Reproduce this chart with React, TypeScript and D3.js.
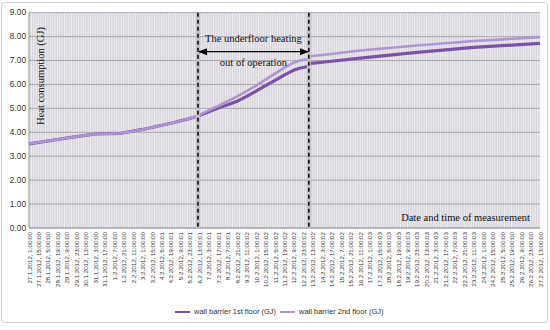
import * as d3 from "d3";

// tick labels on the category axis (one every 14 hours)
const xLabels = [
  "27.1.2012, 1:00:00", "27.1.2012, 15:00:00", "28.1.2012, 5:00:00", "28.1.2012, 19:00:00",
  "29.1.2012, 9:00:00", "29.1.2012, 23:00:00", "30.1.2012, 13:00:00", "31.1.2012, 3:00:00",
  "31.1.2012, 17:00:00", "1.2.2012, 7:00:00", "1.2.2012, 21:00:00", "2.2.2012, 11:00:00",
  "3.2.2012, 1:00:00", "3.2.2012, 15:00:00", "4.2.2012, 5:00:01", "4.2.2012, 19:00:01",
  "5.2.2012, 9:00:01", "5.2.2012, 23:00:01", "6.2.2012, 13:00:01", "7.2.2012, 3:00:01",
  "7.2.2012, 17:00:01", "8.2.2012, 7:00:01", "8.2.2012, 21:00:02", "9.2.2012, 11:00:02",
  "10.2.2012, 1:00:02", "10.2.2012, 15:00:02", "11.2.2012, 5:00:02", "11.2.2012, 19:00:02",
  "12.2.2012, 9:00:02", "12.2.2012, 23:00:02", "13.2.2012, 13:00:02", "14.2.2012, 3:00:02",
  "14.2.2012, 17:00:02", "15.2.2012, 7:00:02", "15.2.2012, 21:00:02", "16.2.2012, 11:00:02",
  "17.2.2012, 1:00:03", "17.2.2012, 15:00:03", "18.2.2012, 5:00:03", "18.2.2012, 19:00:03",
  "19.2.2012, 9:00:03", "19.2.2012, 23:00:03", "20.2.2012, 13:00:03", "21.2.2012, 3:00:03",
  "21.2.2012, 17:00:03", "22.2.2012, 7:00:03", "22.2.2012, 21:00:03", "23.2.2012, 11:00:03",
  "24.2.2012, 1:00:00", "24.2.2012, 15:00:00", "25.2.2012, 5:00:00", "25.2.2012, 19:00:00",
  "26.2.2012, 9:00:00", "26.2.2012, 23:00:00", "27.2.2012, 13:00:00",
];

const yTicks = [0, 1, 2, 3, 4, 5, 6, 7, 8, 9];

const times = [
  "2012-01-27T01:00", "2012-01-28T19:00", "2012-01-29T23:00", "2012-01-31T03:00",
  "2012-02-01T15:00", "2012-02-03T01:00", "2012-02-04T19:00", "2012-02-05T23:00",
  "2012-02-06T13:00", "2012-02-07T03:00", "2012-02-07T17:00", "2012-02-08T07:00",
  "2012-02-08T21:00", "2012-02-09T11:00", "2012-02-10T01:00", "2012-02-10T15:00",
  "2012-02-11T05:00", "2012-02-11T19:00", "2012-02-12T09:00", "2012-02-12T17:00",
  "2012-02-13T06:00", "2012-02-13T09:00", "2012-02-14T03:00", "2012-02-16T11:00",
  "2012-02-19T23:00", "2012-02-23T11:00", "2012-02-27T13:00",
];

const floor1 = [
  3.52, 3.7, 3.82, 3.93, 3.95, 4.12, 4.38, 4.58, 4.7, 4.86, 5.02, 5.15, 5.3, 5.5,
  5.72, 5.95, 6.17, 6.4, 6.6, 6.68, 6.75, 6.88, 6.93, 7.1, 7.34, 7.55, 7.72,
];
const floor2 = [
  3.52, 3.7, 3.82, 3.93, 3.95, 4.12, 4.38, 4.58, 4.72, 4.92, 5.1, 5.3, 5.5, 5.72,
  5.95, 6.2, 6.45, 6.7, 6.92, 7.0, 7.05, 7.18, 7.23, 7.42, 7.63, 7.82, 7.98,
];

const seriesNames = ["wall barrier 1st floor (GJ)", "wall barrier 2nd floor (GJ)"];
const colors = ["#7a53a4", "#ae96d1"];

// heating switched off between these two moments
const offPeriod = ["2012-02-06T11:00", "2012-02-13T07:00"];

const W = 550;
const H = 330;
const left = 29;
const right = 540;
const top = 12.7;
const bottom = 228;

export default function App() {
  const parse = (s: string) => new Date(s);
  const t0 = parse(times[0]);
  const t1 = new Date(t0.getTime() + (xLabels.length - 1) * 14 * 3600 * 1000);

  const x = d3.scaleTime().domain([t0, t1]).range([left, right]);
  const xCat = d3.scalePoint<string>().domain(xLabels).range([left, right]);
  const y = d3.scaleLinear().domain([0, 9]).range([bottom, top]);

  const line = d3
    .line<[Date, number]>()
    .x((d) => x(d[0]))
    .y((d) => y(d[1]));

  const s1 = times.map((t, i) => [parse(t), floor1[i]] as [Date, number]);
  const s2 = times.map((t, i) => [parse(t), floor2[i]] as [Date, number]);

  // dense vertical grid, four per label interval
  const vGrid = d3.range(0, (xLabels.length - 1) * 4 + 1).map(
    (i) => left + (i * (right - left)) / ((xLabels.length - 1) * 4)
  );

  const xa = x(parse(offPeriod[0]));
  const xb = x(parse(offPeriod[1]));
  const arrowY = 51.7;

  return (
    <svg
      width={W}
      height={H}
      style={{ position: "absolute", left: 0, top: 0, background: "#fff" }}
    >
      <defs>
        <marker id="ah" viewBox="0 0 10 10" refX="9" refY="5" markerWidth="7" markerHeight="7" orient="auto-start-reverse">
          <path d="M0,1 L10,5 L0,9 z" fill="#000" />
        </marker>
      </defs>
      <rect x={1.5} y={2.5} width={546} height={320} rx={3} fill="#fff" stroke="#cfcfcf" />
      <rect x={left} y={top} width={right - left} height={bottom - top} fill="#d6d3da" />
      {vGrid.map((gx, i) => (
        <line key={i} x1={gx} x2={gx} y1={top} y2={bottom} stroke="#f4f3f6" strokeWidth={0.9} />
      ))}
      {yTicks.map((v) => (
        <g key={v}>
          <line x1={left} x2={right} y1={y(v)} y2={y(v)} stroke="#a9a8ad" strokeWidth={1} />
          <text x={left - 3} y={y(v)} dy="0.33em" textAnchor="end" fontSize={8.3} fontFamily="Liberation Sans, Arial" fill="#333">
            {d3.format(".2f")(v)}
          </text>
        </g>
      ))}
      <line x1={left} x2={left} y1={top} y2={bottom} stroke="#9a9a9a" />
      <line x1={left} x2={right} y1={bottom} y2={bottom} stroke="#9a9a9a" />
      {xLabels.map((l) => (
        <text
          key={l}
          transform={`translate(${xCat(l)! + 2.5},${bottom + 4}) rotate(-90)`}
          textAnchor="end"
          fontSize={6.2}
          fontFamily="Liberation Sans, Arial"
          fill="#333"
        >
          {l}
        </text>
      ))}

      <path d={line(s1)!} fill="none" stroke={colors[0]} strokeWidth={3.2} strokeLinejoin="round" />
      <path d={line(s2)!} fill="none" stroke={colors[1]} strokeWidth={2.6} strokeLinejoin="round" />

      {[xa, xb].map((dx, i) => (
        <g key={i}>
          <line x1={dx} x2={dx} y1={top} y2={bottom} stroke="#c4c2c7" strokeWidth={4} />
          <line x1={dx} x2={dx} y1={top} y2={bottom} stroke="#111" strokeWidth={1.6} strokeDasharray="4 3" />
        </g>
      ))}
      <line x1={xa + 1} x2={xb - 1} y1={arrowY} y2={arrowY} stroke="#000" strokeWidth={1.3} markerStart="url(#ah)" markerEnd="url(#ah)" />
      <text x={(xa + xb) / 2} y={42} textAnchor="middle" fontSize={10.5} fontFamily="Liberation Serif, serif" fill="#111">
        The underfloor heating
      </text>
      <text x={(xa + xb) / 2} y={66} textAnchor="middle" fontSize={10.5} fontFamily="Liberation Serif, serif" fill="#111">
        out of operation
      </text>

      <text transform={`translate(44,76) rotate(-90)`} textAnchor="middle" fontSize={10.5} fontFamily="Liberation Serif, serif" fill="#111">
        Heat consumption (GJ)
      </text>
      <text x={530} y={221} textAnchor="end" fontSize={10.5} fontFamily="Liberation Serif, serif" fill="#111">
        Date and time of measurement
      </text>

      {seriesNames.map((n, i) => {
        const lx = [175, 280][i];
        return (
          <g key={n}>
            <line x1={lx} x2={lx + 15} y1={312} y2={312} stroke={colors[i]} strokeWidth={2} />
            <text x={lx + 19} y={312} dy="0.33em" fontSize={7.5} fontFamily="Liberation Sans, Arial" fill="#333">
              {n}
            </text>
          </g>
        );
      })}
    </svg>
  );
}
